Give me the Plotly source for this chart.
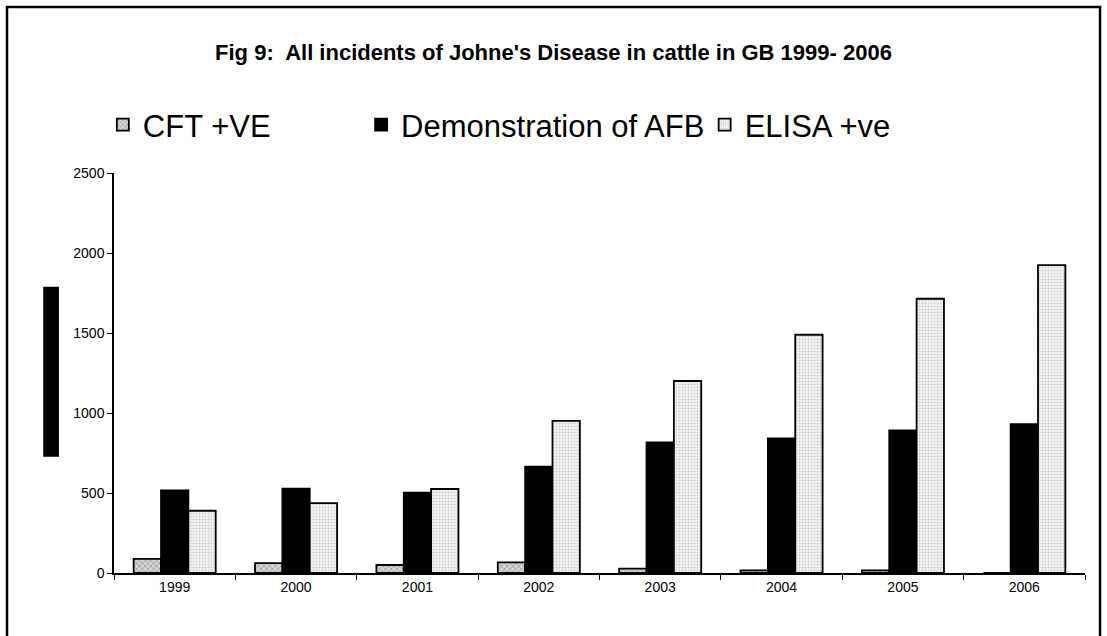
import plotly.graph_objects as go

years = ["1999", "2000", "2001", "2002", "2003", "2004", "2005", "2006"]
cft = [88, 62, 50, 66, 27, 16, 16, 0]
afb = [516, 527, 502, 665, 817, 841, 891, 931]
elisa = [389, 437, 525, 951, 1200, 1489, 1714, 1924]

title_text = "Fig 9:  All incidents of Johne's Disease in cattle in GB 1999- 2006"

FONT = "Liberation Sans, Arial, sans-serif"

fig = go.Figure()
fig.add_trace(go.Bar(
    x=years, y=cft, name="CFT +VE", legend="legend",
    marker=dict(color="#d0d0d0", line=dict(color="black", width=1.8),
                pattern=dict(shape="x", fgcolor="#7a7a7a", bgcolor="#d4d4d4", size=4, solidity=0.4)),
))
fig.add_trace(go.Bar(
    x=years, y=afb, name="Demonstration of AFB", legend="legend2",
    marker=dict(color="black", line=dict(color="black", width=1.8)),
))
fig.add_trace(go.Bar(
    x=years, y=elisa, name="ELISA +ve", legend="legend3",
    marker=dict(color="#f0f0f0", line=dict(color="black", width=1.8),
                pattern=dict(shape=".", fgcolor="#a8a8a8", bgcolor="#f4f4f4", size=3, solidity=0.35)),
))

leg_common = dict(orientation="h", yanchor="middle", y=1.12, xanchor="left",
                  font=dict(family=FONT, size=31, color="black"),
                  bgcolor="rgba(0,0,0,0)", borderwidth=0, itemclick=False)

fig.update_layout(
    width=1107, height=636,
    margin=dict(l=114, r=22, t=173, b=63),
    paper_bgcolor="white", plot_bgcolor="white",
    barmode="group", bargap=0.324, bargroupgap=0,
    font=dict(family=FONT, color="black"),
    title=dict(text="<b>" + title_text + "</b>", x=0.5, xref="container", xanchor="center",
               y=0.917, yanchor="middle",
               font=dict(family=FONT, size=22, color="black")),
    showlegend=True,
    legend=dict(x=-0.0115, **leg_common),
    legend2=dict(x=0.2545, **leg_common),
    legend3=dict(x=0.6083, **leg_common),
    xaxis=dict(type="category", showline=True, linecolor="black", linewidth=1.5,
               ticks="outside", tickson="boundaries", ticklen=5, tickcolor="black",
               showgrid=False, tickfont=dict(family=FONT, size=14, color="black")),
    yaxis=dict(range=[0, 2500], dtick=500, showline=True, linecolor="black", linewidth=1.5,
               ticks="outside", ticklen=5, tickcolor="black", showgrid=False, zeroline=False,
               tickfont=dict(family=FONT, size=14, color="black")),
    shapes=[
        dict(type="rect", xref="paper", yref="paper", x0=-0.1102, x1=1.0155, y0=-0.2, y1=1.415,
             line=dict(color="black", width=2.5), fillcolor="rgba(0,0,0,0)", layer="below"),
        dict(type="rect", xref="paper", yref="paper", x0=-0.0729, x1=-0.0567, y0=0.2908, y1=0.7158,
             line=dict(width=0), fillcolor="black"),
    ],
    hovermode=False,
)

fig.write_html("out.html", config={"displayModeBar": False},
               post_script="document.body.style.margin='0px';document.body.style.overflow='hidden';")
